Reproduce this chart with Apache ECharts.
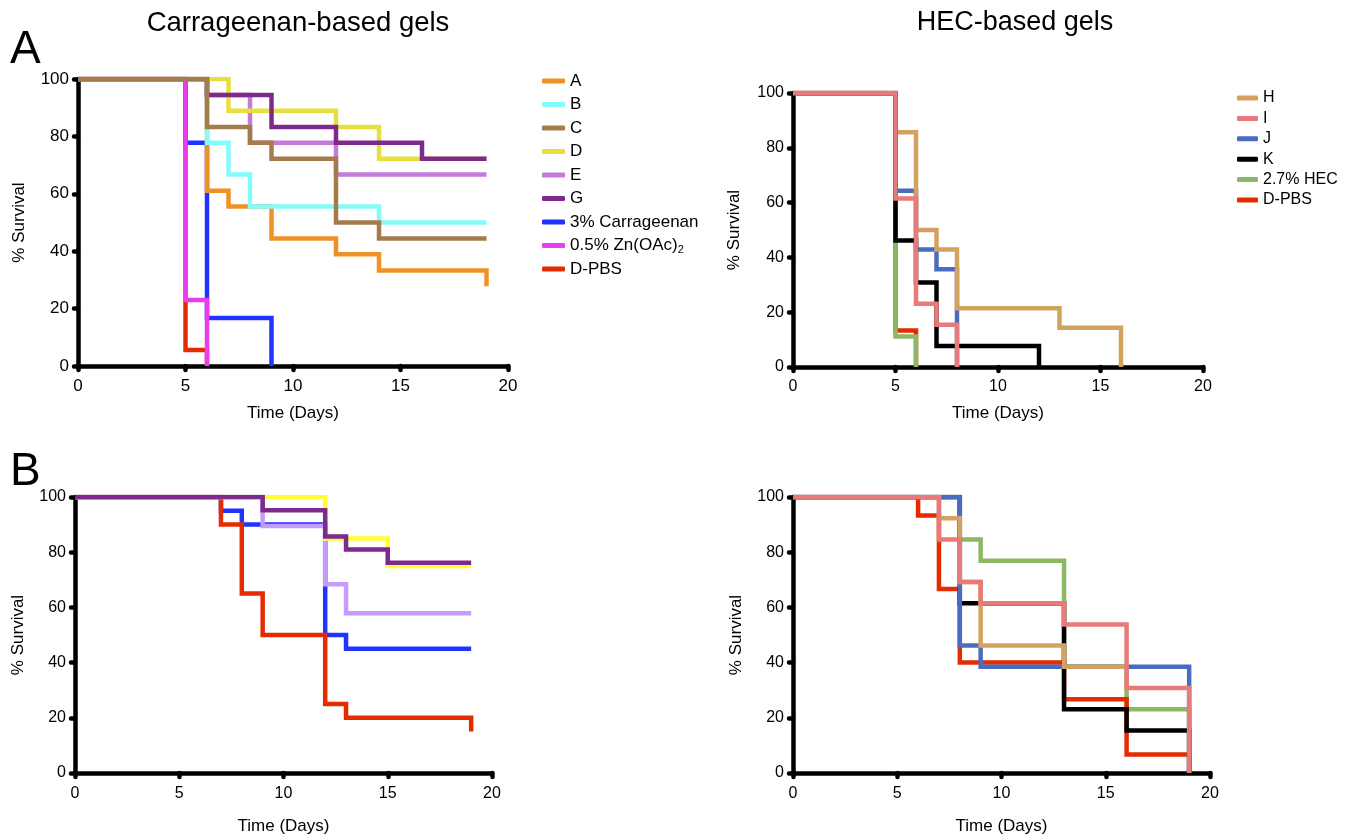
<!DOCTYPE html>
<html>
<head>
<meta charset="utf-8">
<script src="https://cdn.jsdelivr.net/npm/echarts@6/dist/echarts.min.js"></script>
<style>
html,body{margin:0;padding:0;background:#fff;}
#c{width:1351px;height:836px;}
</style>
</head>
<body>
<div id="c"></div>
<script>
// ---------- DATA (Kaplan-Meier steps: [day, % survival after event]) ----------
const xTicks = [0, 5, 10, 15, 20];
const yTicks = [0, 20, 40, 60, 80, 100];

// Panel A, Carrageenan-based gels
const aA    = [[0,100],[6,61.1],[7,55.6],[9,44.4],[12,38.9],[14,33.3],[19,33.3],[19,27.8]];
const aB    = [[0,100],[6,77.8],[7,66.7],[8,55.6],[14,50],[19,50]];
const aC    = [[0,100],[6,83.3],[8,77.8],[9,72.2],[12,50],[14,44.4],[19,44.4]];
const aD    = [[0,100],[7,88.9],[12,83.3],[14,72.2],[19,72.2]];
const aE    = [[0,100],[6,94.4],[8,77.8],[12,66.7],[19,66.7]];
const aG    = [[0,100],[6,94.4],[9,83.3],[12,77.8],[16,72.2],[19,72.2]];
const aCarr = [[0,100],[5,77.8],[6,16.7],[9,0]];
const aZn   = [[0,100],[5,23],[6,0]];
const aPBS  = [[0,100],[5,5.6],[6,0]];

// Panel A, HEC-based gels
const hH   = [[0,100],[5,85.7],[6,50],[7,42.9],[8,21.4],[13,14.3],[16,0]];
const hI   = [[0,100],[5,61.5],[6,23.1],[7,15.4],[8,0]];
const hJ   = [[0,100],[5,64.3],[6,42.9],[7,35.7],[8,0]];
const hK   = [[0,100],[5,46.2],[6,30.8],[7,7.7],[12,0]];
const hHEC = [[0,100],[5,11.1],[6,0]];
const hPBS = [[0,100],[5,13.3],[6,0]];

// Panel B, Carrageenan-based gels
const bD    = [[0,100],[12,85],[15,75],[19,75]];
const bG    = [[0,100],[9,95.2],[12,85.7],[13,81],[15,76.2],[19,76.2]];
const bE    = [[0,100],[9,89.5],[12,68.4],[13,57.9],[19,57.9]];
const bCarr = [[0,100],[7,95],[8,90],[12,50],[13,45],[19,45]];
const bPBS  = [[0,100],[7,90],[8,65],[9,50],[12,25],[13,20],[19,20],[19,15]];

// Panel B, HEC-based gels
const gH   = [[0,100],[7,92.3],[8,69.2],[9,46.2],[13,38.5],[16,38.5]];
const gI   = [[0,100],[7,84.6],[8,69.2],[9,61.5],[13,53.8],[16,30.8],[19,0]];
const gJ   = [[0,100],[8,46.2],[9,38.5],[19,0]];
const gK   = [[0,100],[8,61.5],[13,23.1],[16,15.4],[19,0]];
const gHEC = [[0,100],[8,84.6],[9,76.9],[13,38.5],[16,23.1],[19,0]];
const gPBS = [[0,100],[6,93.3],[7,66.7],[8,40],[13,26.7],[16,6.7],[19,0]];

const legendCarr = ['A','B','C','D','E','G','3% Carrageenan','0.5% Zn(OAc)2','D-PBS'];
const legendHEC  = ['H','I','J','K','2.7% HEC','D-PBS'];

// ---------- STYLE ----------
const FONT = "'Liberation Sans', Arial, Helvetica, sans-serif";
const C = {
  A:'#ef9226', B:'#84fcfc', C:'#a47c4c', D:'#e6df3e', E:'#c47ad8', G:'#7e2a8c',
  Carr:'#2133ff', Zn:'#ec3cf0', PBS:'#e42c00',
  bD:'#ffff33', bE:'#c39cfc',
  H:'#d4a260', I:'#e87a7a', J:'#4a6cc0', K:'#000000', HEC:'#8cb864'
};

const grids = [
  {left:78,  top:79, width:430, height:287},
  {left:793, top:93, width:410, height:274},
  {left:75,  top:497, width:417, height:278},
  {left:793, top:497, width:417, height:277}
];
const xNameGap = [39, 38, 45, 45];

function xAx(i){
  return {
    type:'value', gridIndex:i, min:0, max:20, interval:5,
    name:'Time (Days)', nameLocation:'middle', nameGap:xNameGap[i],
    nameTextStyle:{fontFamily:FONT, fontSize:17, color:'#000'},
    axisLine:{lineStyle:{color:'#000', width:4.5}},
    axisTick:{length:4, lineStyle:{color:'#000', width:4.5, cap:'round'}},
    axisLabel:{fontFamily:FONT, fontSize:i===0?17:16, color:'#000', margin:i>=2?13:12},
    splitLine:{show:false}
  };
}
function yAx(i){
  return {
    type:'value', gridIndex:i, min:0, max:100, interval:20,
    name:'% Survival', nameLocation:'middle', nameGap:i===0?50:(i===1?50:48), nameRotate:90,
    nameTextStyle:{fontFamily:FONT, fontSize:17, color:'#000'},
    axisLine:{lineStyle:{color:'#000', width:4.5}},
    axisTick:{length:4, lineStyle:{color:'#000', width:4.5, cap:'round'}},
    axisLabel:{fontFamily:FONT, fontSize:i===0?17:16, color:'#000', margin:9},
    splitLine:{show:false}
  };
}
function ser(name, data, color, gi){
  return {
    type:'line', name:name, data:data, step:'end',
    xAxisIndex:gi, yAxisIndex:gi, symbol:'none', animation:false,
    itemStyle:{color:color},
    lineStyle:{color:color, width:4.5, cap:'butt', join:'miter'},
    emphasis:{disabled:true}
  };
}

const series = [
  // panel A left (bottom -> top)
  ser('D-PBS', aPBS, C.PBS, 0),
  ser('3% Carrageenan', aCarr, C.Carr, 0),
  ser('A', aA, C.A, 0),
  ser('B', aB, C.B, 0),
  ser('0.5% Zn(OAc)2', aZn, C.Zn, 0),
  ser('E', aE, C.E, 0),
  ser('D', aD, C.D, 0),
  ser('G', aG, C.G, 0),
  ser('C', aC, C.C, 0),
  // panel A right
  ser('D-PBS', hPBS, C.PBS, 1),
  ser('2.7% HEC', hHEC, C.HEC, 1),
  ser('J', hJ, C.J, 1),
  ser('H', hH, C.H, 1),
  ser('K', hK, C.K, 1),
  ser('I', hI, C.I, 1),
  // panel B left
  ser('3% Carrageenan', bCarr, C.Carr, 2),
  ser('D-PBS', bPBS, C.PBS, 2),
  ser('E', bE, C.bE, 2),
  ser('D', bD, C.bD, 2),
  ser('G', bG, C.G, 2),
  // panel B right
  ser('2.7% HEC', gHEC, C.HEC, 3),
  ser('D-PBS', gPBS, C.PBS, 3),
  ser('K', gK, C.K, 3),
  ser('J', gJ, C.J, 3),
  ser('H', gH, C.H, 3),
  ser('I', gI, C.I, 3)
];

const option = {
  backgroundColor:'#fff',
  animation:false,
  grid: grids,
  xAxis: [0,1,2,3].map(xAx),
  yAxis: [0,1,2,3].map(yAx),
  legend: [
    {
      data: legendCarr, orient:'vertical', left:537, top:66, selectedMode:false,
      icon:'roundRect', itemWidth:23, itemHeight:5, itemGap:3.5,
      textStyle:{fontFamily:FONT, fontSize:17, color:'#000', lineHeight:20,
        rich:{sub:{fontFamily:FONT, fontSize:11, color:'#000', padding:[9,0,0,0]}}},
      formatter: function(n){ return n === '0.5% Zn(OAc)2' ? '0.5% Zn(OAc){sub|2}' : n; }
    },
    {
      data: legendHEC, orient:'vertical', left:1232, top:84, selectedMode:false,
      icon:'roundRect', itemWidth:21, itemHeight:5, itemGap:2.4,
      textStyle:{fontFamily:FONT, fontSize:16, color:'#000', lineHeight:18}
    }
  ],
  graphic: [
    {type:'text', x:298, y:9, style:{text:'Carrageenan-based gels', fontFamily:FONT, fontSize:27.5, fill:'#000', textAlign:'center'}},
    {type:'text', x:1015, y:9, style:{text:'HEC-based gels', fontFamily:FONT, fontSize:27, fill:'#000', textAlign:'center'}},
    {type:'text', x:10, y:27, style:{text:'A', fontFamily:FONT, fontSize:46, fill:'#000'}},
    {type:'text', x:10, y:449, style:{text:'B', fontFamily:FONT, fontSize:46, fill:'#000'}}
  ],
  series: series
};

const chart = echarts.init(document.getElementById('c'), null, {renderer:'canvas'});
chart.setOption(option);
</script>
</body>
</html>
